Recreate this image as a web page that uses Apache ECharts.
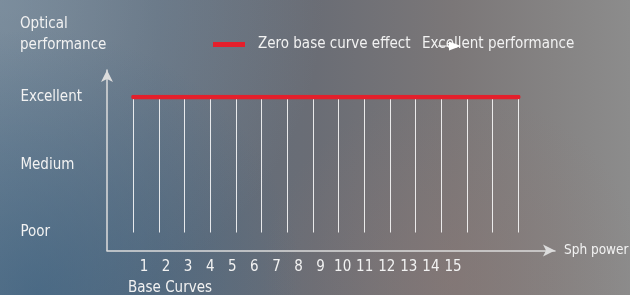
<!DOCTYPE html>
<html lang="en">
<head>
<meta charset="UTF-8">
<title>Base curves</title>
<script src="https://cdn.jsdelivr.net/npm/echarts@6/dist/echarts.min.js"></script>
<style>
  html, body { margin: 0; padding: 0; }
  #main { width: 630px; height: 295px; }
</style>
</head>
<body>
<div id="main"></div>
<script>
// levels on the y axis (index = value)
var levels = ['Poor', 'Medium', 'Excellent'];
// base curve grid lines (value on the hidden x axis)
var baseCurves = [0, 1, 2, 3, 4, 5, 6, 7, 8, 9, 10, 11, 12, 13, 14, 15];
// zero base curve effect -> stays at "Excellent" (index 2)
var zeroEffect = [2, 2, 2, 2, 2, 2, 2, 2, 2, 2, 2, 2, 2, 2, 2, 2];
// tick labels under the x axis
var tickLabels = ['1', '2', '3', '4', '5', '6', '7', '8', '9', '10', '11', '12', '13', '14', '15'];

var font = "'DejaVu Sans Condensed', 'DejaVu Sans', sans-serif";
var fs = 15;
var white = '#f2f2f2';
var axisColor = '#dcdcdc';

var chart = echarts.init(document.getElementById('main'));

var option = {
  backgroundColor: new echarts.graphic.LinearGradient(0, 0, 1, 0, [
    { offset: 0, color: '#667a8c' },
    { offset: 0.25, color: '#5f6e7e' },
    { offset: 0.5, color: '#6a6d75' },
    { offset: 0.72, color: '#7b7778' },
    { offset: 0.88, color: '#858383' },
    { offset: 1, color: '#8c8c8c' }
  ]),
  textStyle: { fontFamily: font },
  title: [{
    text: 'Optical\nperformance',
    left: 20, top: 14, padding: 0,
    textStyle: { color: white, fontSize: fs, fontWeight: 'normal', lineHeight: 21, fontFamily: font }
  }, {
    text: 'Base Curves',
    left: 128, top: 281, padding: 0,
    textStyle: { color: white, fontSize: fs, fontWeight: 'normal', fontFamily: font }
  }],
  legend: [{
    data: [{ name: 'Zero base curve effect', icon: 'rect' }],
    left: 213, top: 37, padding: 0,
    itemWidth: 32, itemHeight: 5,
    textStyle: { color: white, fontSize: fs, fontFamily: font, padding: [0, 0, 0, 8] }
  }, {
    data: [{ name: 'Excellent performance', icon: 'none' }],
    left: 407, top: 37, padding: 0,
    itemWidth: 10, itemHeight: 5,
    textStyle: { color: white, fontSize: fs, fontFamily: font }
  }],
  grid: [
    { left: 133.4, right: 111.7, top: 97, bottom: 62.5, outerBoundsMode: 'none' },
    { left: 133, right: 166, top: 70, bottom: 44.5, outerBoundsMode: 'none' },
    { left: 107, right: 75, top: 70, bottom: 44.5, outerBoundsMode: 'none' }
  ],
  xAxis: [{
    gridIndex: 0, type: 'value', min: 0, max: 15, show: false
  }, {
    gridIndex: 1, type: 'category', data: tickLabels,
    axisLine: { show: false }, axisTick: { show: false },
    axisLabel: { color: white, fontSize: fs, margin: 9, interval: 0, fontFamily: font }
  }, {
    gridIndex: 2, type: 'value', min: 0, max: 1,
    name: 'Sph power', nameLocation: 'end', nameGap: 9,
    nameTextStyle: { color: white, fontSize: 13.5, fontFamily: font },
    axisLine: { show: true, onZero: false, symbol: ['none', 'arrow'], symbolSize: [9, 12],
      lineStyle: { color: axisColor, width: 1.5 } },
    axisTick: { show: false }, axisLabel: { show: false }, splitLine: { show: false }
  }],
  yAxis: [{
    gridIndex: 0, type: 'value', min: 0, max: 2, interval: 1,
    axisLine: { show: false }, axisTick: { show: false }, splitLine: { show: false },
    axisLabel: {
      color: white, fontSize: fs, align: 'left', margin: 113, fontFamily: font,
      formatter: function (v) { return levels[v]; }
    }
  }, {
    gridIndex: 1, type: 'value', show: false
  }, {
    gridIndex: 2, type: 'value', min: 0, max: 1,
    axisLine: { show: true, onZero: false, symbol: ['none', 'arrow'], symbolSize: [9, 12],
      lineStyle: { color: axisColor, width: 1.5 } },
    axisTick: { show: false }, axisLabel: { show: false }, splitLine: { show: false }
  }],
  graphic: [{
    // soft light in the top left corner
    type: 'rect', z: -100, silent: true,
    shape: { x: 0, y: 0, width: 630, height: 295 },
    style: { fill: new echarts.graphic.RadialGradient(0, 0, 1.1, [
      { offset: 0, color: 'rgba(150,165,178,0.45)' },
      { offset: 1, color: 'rgba(150,165,178,0)' }
    ]) }
  }, {
    // deep blue in the bottom left
    type: 'rect', z: -99, silent: true,
    shape: { x: 0, y: 0, width: 630, height: 295 },
    style: { fill: new echarts.graphic.RadialGradient(0.06, 1, 0.9, [
      { offset: 0, color: 'rgba(60,98,130,0.65)' },
      { offset: 1, color: 'rgba(60,98,130,0)' }
    ]) }
  }, {
    // warm patch lower right
    type: 'rect', z: -98, silent: true,
    shape: { x: 0, y: 0, width: 630, height: 295 },
    style: { fill: new echarts.graphic.RadialGradient(0.72, 0.95, 0.65, [
      { offset: 0, color: 'rgba(140,120,116,0.45)' },
      { offset: 1, color: 'rgba(140,120,116,0)' }
    ]) }
  }, {
    type: 'line', shape: { x1: 438, y1: 46, x2: 450, y2: 46 },
    style: { stroke: '#ffffff', lineWidth: 1 }, z: 10
  }, {
    type: 'polygon', shape: { points: [[449, 41.5], [461, 46], [449, 50.5]] },
    style: { fill: '#ffffff' }, z: 10
  }],
  series: [{
    name: 'Zero base curve effect',
    type: 'line', xAxisIndex: 0, yAxisIndex: 0,
    data: baseCurves.map(function (x, i) { return [x, zeroEffect[i]]; }),
    symbol: 'none', z: 5,
    itemStyle: { color: '#e41f2b' },
    lineStyle: { color: '#e41f2b', width: 4.5, cap: 'round' },
    markLine: {
      silent: true, symbol: 'none', z: 2,
      label: { show: false },
      lineStyle: { color: 'rgba(255,255,255,0.85)', width: 1, type: 'solid' },
      data: baseCurves.map(function (x) { return { xAxis: x }; })
    }
  }, {
    name: 'Excellent performance',
    type: 'line', xAxisIndex: 1, yAxisIndex: 1,
    data: [], symbol: 'none',
    lineStyle: { color: '#ffffff' }
  }]
};

chart.setOption(option);
</script>
</body>
</html>
